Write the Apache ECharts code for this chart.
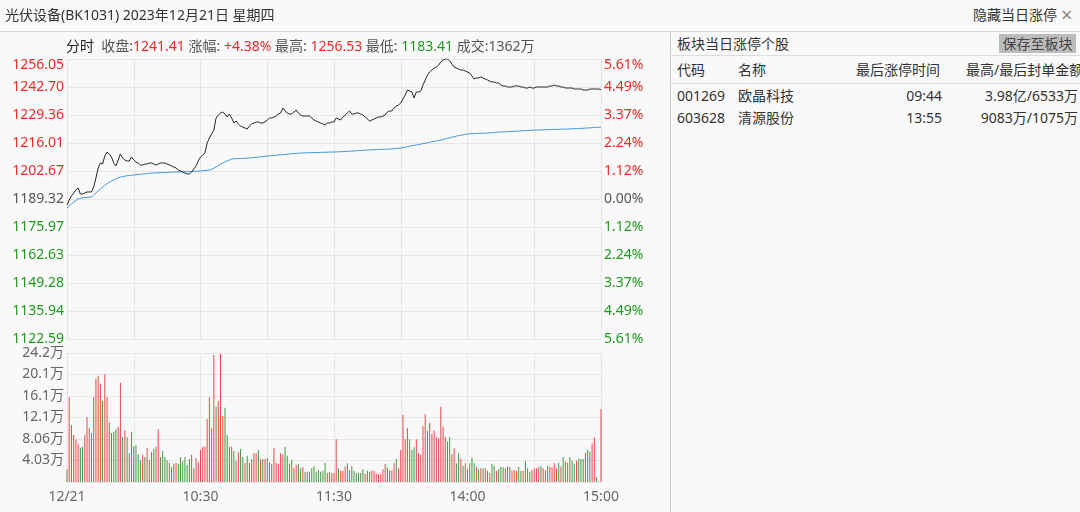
<!DOCTYPE html>
<html><head><meta charset="utf-8">
<script src="https://cdn.jsdelivr.net/npm/echarts@6.0.0/dist/echarts.min.js"></script>
<style>
html,body{margin:0;padding:0;background:#f9f9f9;width:1080px;height:512px;overflow:hidden;font-family:"Noto Sans","Noto Sans CJK SC",sans-serif;color:#333;}
.abs{position:absolute;white-space:nowrap;font-size:14px;line-height:18px;}
.r{color:#ee2a2a}.g{color:#1f9a1f}.k{color:#222}.m{color:#555}
</style></head><body>
<div id="chart" style="position:absolute;left:0;top:0;width:670px;height:512px;"></div>
<div class="abs" style="left:5px;top:6px;color:#333">光伏设备(BK1031) 2023年12月21日 星期四</div>
<div class="abs" style="left:973px;top:6px;color:#333">隐藏当日涨停</div>
<div class="abs" style="left:1061px;top:4px;font-size:20px;line-height:22px;color:#888">×</div>
<div style="position:absolute;left:0;top:31px;width:1080px;height:1px;background:#d4d4d4"></div>
<div style="position:absolute;left:670px;top:32px;width:1px;height:480px;background:#c8c8c8"></div>
<div class="abs" style="left:66px;top:37px"><span class="k">分时</span>&nbsp; <span class="m">收盘:</span><span class="r">1241.41</span> <span class="m">涨幅:</span> <span class="r">+4.38%</span> <span class="m">最高:</span> <span class="r">1256.53</span> <span class="m">最低:</span> <span class="g">1183.41</span> <span class="m">成交:1362万</span></div>
<div class="abs" style="left:677px;top:35px;color:#333">板块当日涨停个股</div>
<div class="abs" style="left:999px;top:34px;width:77px;height:19px;background:#bcbcbc;color:#444;text-align:center;line-height:19px">保存至板块</div>
<div style="position:absolute;left:671px;top:55px;width:409px;height:1px;background:#dcdcdc"></div>
<div class="abs" style="left:677px;top:61px">代码</div>
<div class="abs" style="left:738px;top:61px">名称</div>
<div class="abs" style="left:856px;top:61px">最后涨停时间</div>
<div class="abs" style="left:966px;top:61px">最高/最后封单金额</div>
<div style="position:absolute;left:671px;top:83px;width:409px;height:1px;background:#dcdcdc"></div>
<div id="rows"></div>
<script>
// ---------- data ----------
const stockCodes = ['001269', '603628'];
const stockNames = ['欧晶科技', '清源股份'];
const limitTimes = ['09:44', '13:55'];
const sealAmounts = ['3.98亿/6533万', '9083万/1075万'];

const priceTicks = ['1122.59','1135.94','1149.28','1162.63','1175.97','1189.32','1202.67','1216.01','1229.36','1242.70','1256.05'];
const pctTicks = ['5.61%','4.49%','3.37%','2.24%','1.12%','0.00%','1.12%','2.24%','3.37%','4.49%','5.61%'];
const volTicks = ['', '4.03万', '8.06万', '12.1万', '16.1万', '20.1万', '24.2万'];
const timeAxisLabels = {'09:30':'12/21','10:30':'10:30','11:30':'11:30','14:00':'14:00','15:00':'15:00'};

const PRICE_MIN = 1122.59, PRICE_MAX = 1256.05, PRICE_STEP = 13.346;
const VOL_MAX = 24.18, VOL_STEP = 4.03;

const prices = [
1186.46,1188.84,1190.75,1192.18,1193.61,1194.56,1191.70,1191.70,1192.18,1192.66,
1192.66,1192.66,1195.04,1199.33,1204.09,1206.48,1206.00,1209.81,1211.72,1210.77,
1209.34,1206.48,1205.05,1207.91,1210.77,1208.86,1207.91,1207.43,1207.43,1209.34,
1207.91,1206.95,1206.48,1205.52,1205.52,1206.00,1206.00,1206.48,1206.48,1206.00,
1205.52,1206.00,1206.48,1206.48,1206.48,1206.00,1205.52,1205.05,1204.57,1204.09,
1203.14,1202.66,1202.19,1201.71,1201.24,1201.24,1202.19,1203.62,1205.05,1207.43,
1209.34,1210.29,1211.24,1216.01,1218.39,1220.30,1222.21,1227.92,1229.35,1230.31,
1230.78,1229.83,1228.40,1229.83,1227.92,1225.54,1226.49,1225.07,1224.11,1223.64,
1223.16,1222.68,1224.11,1225.07,1225.54,1226.02,1226.02,1225.54,1225.54,1226.02,
1226.97,1227.92,1227.92,1228.40,1228.88,1229.83,1230.31,1232.69,1231.26,1230.31,
1229.83,1229.83,1230.78,1231.74,1230.31,1229.35,1228.88,1228.88,1228.88,1228.88,
1227.92,1226.97,1226.49,1226.02,1225.54,1225.07,1224.59,1225.54,1225.54,1226.02,
1226.02,1227.92,1227.45,1226.97,1228.40,1229.35,1230.31,1231.26,1229.83,1229.83,
1230.31,1230.31,1229.83,1229.35,1228.40,1227.45,1226.49,1226.97,1227.45,1227.92,
1228.40,1228.40,1228.88,1229.35,1230.78,1231.26,1231.26,1232.69,1233.64,1234.12,
1235.07,1236.98,1238.89,1241.27,1240.79,1240.32,1237.46,1240.32,1240.32,1240.79,
1243.65,1246.03,1248.42,1249.85,1250.80,1251.75,1252.23,1253.18,1254.61,1255.56,
1256.04,1256.04,1255.09,1253.66,1252.23,1251.75,1251.28,1250.80,1250.80,1250.32,
1249.85,1249.37,1247.94,1246.51,1246.99,1246.99,1247.47,1246.99,1246.51,1246.03,
1245.56,1245.08,1245.08,1244.61,1244.61,1243.65,1243.18,1243.18,1242.70,1242.70,
1242.70,1243.18,1243.18,1243.18,1242.70,1242.70,1242.22,1242.22,1242.70,1242.22,
1242.22,1242.70,1242.70,1242.70,1242.70,1242.70,1242.70,1243.18,1243.18,1243.65,
1243.18,1243.18,1242.70,1242.70,1242.22,1242.22,1242.22,1242.22,1241.75,1241.75,
1241.75,1241.75,1241.27,1241.27,1241.27,1241.75,1241.75,1241.75,1241.75,1241.75,
1241.41];

const avgPrices = [
1185.0,1186.0,1187.0,1187.9,1188.6,1189.3,1189.6,1189.8,1190.0,1190.1,
1190.2,1190.3,1191.2,1192.2,1193.2,1194.1,1195.0,1195.8,1196.6,1197.3,
1197.9,1198.4,1198.9,1199.4,1199.8,1200.0,1200.2,1200.4,1200.5,1200.6,
1200.8,1200.9,1201.0,1201.1,1201.2,1201.3,1201.4,1201.5,1201.7,1201.7,
1201.8,1201.8,1201.9,1201.9,1202.0,1202.0,1202.1,1202.1,1202.2,1202.2,
1202.2,1202.3,1202.3,1202.3,1202.4,1202.4,1202.4,1202.5,1202.5,1202.6,
1202.7,1202.8,1202.9,1203.0,1203.1,1203.5,1204.0,1204.6,1205.3,1205.9,
1206.5,1207.0,1207.5,1207.9,1208.4,1208.5,1208.5,1208.6,1208.6,1208.7,
1208.7,1208.8,1208.9,1209.0,1209.1,1209.2,1209.3,1209.4,1209.5,1209.7,
1209.8,1209.9,1210.0,1210.1,1210.2,1210.3,1210.4,1210.5,1210.6,1210.7,
1210.8,1210.9,1211.0,1211.1,1211.2,1211.2,1211.3,1211.3,1211.3,1211.4,
1211.4,1211.4,1211.5,1211.5,1211.5,1211.6,1211.6,1211.6,1211.7,1211.7,
1211.7,1211.8,1211.8,1211.9,1211.9,1212.0,1212.0,1212.1,1212.1,1212.2,
1212.3,1212.4,1212.4,1212.5,1212.6,1212.7,1212.7,1212.8,1212.8,1212.9,
1212.9,1213.0,1213.0,1213.0,1213.1,1213.1,1213.2,1213.3,1213.4,1213.5,
1213.6,1213.8,1214.0,1214.3,1214.5,1214.7,1214.9,1215.1,1215.3,1215.5,
1215.7,1215.9,1216.1,1216.4,1216.6,1216.8,1217.0,1217.2,1217.4,1217.7,
1218.0,1218.3,1218.5,1218.8,1219.0,1219.3,1219.5,1219.7,1219.9,1220.1,
1220.3,1220.4,1220.4,1220.5,1220.5,1220.6,1220.6,1220.7,1220.7,1220.8,
1220.9,1220.9,1221.0,1221.1,1221.2,1221.3,1221.3,1221.4,1221.4,1221.5,
1221.5,1221.6,1221.6,1221.7,1221.8,1221.8,1221.9,1222.0,1222.0,1222.1,
1222.2,1222.2,1222.2,1222.3,1222.3,1222.3,1222.4,1222.4,1222.4,1222.5,
1222.5,1222.5,1222.6,1222.6,1222.6,1222.7,1222.7,1222.8,1222.8,1222.9,
1222.9,1223.0,1223.0,1223.1,1223.2,1223.2,1223.3,1223.4,1223.5,1223.5,
1223.6];

// volume in 万
const volumes = [
2.4,15.9,10.7,8.8,7.9,7.1,6.4,6.6,8.8,12.2,
10.1,9.2,15.9,19.3,19.9,18.4,15.2,20.2,15.9,11.2,
9.2,9.4,9.9,10.3,18.6,8.4,9.7,8.4,5.4,9.4,
6.7,6.9,5.2,4.1,5.1,4.7,6.4,4.1,5.6,6.2,
6.6,9.9,4.7,5.8,4.7,4.1,3.6,2.8,3.4,3.6,
3.4,4.7,3.9,4.7,3.2,4.3,5.1,2.6,4.5,3.7,
6.0,6.6,6.6,11.8,15.9,10.1,23.8,14.1,15.2,24.0,
12.4,13.9,8.8,6.6,6.6,5.8,3.9,5.6,6.2,4.7,
3.6,4.9,3.6,4.3,5.4,5.4,6.0,4.3,4.3,4.3,
4.5,3.7,3.4,6.4,3.6,3.4,5.4,5.2,6.6,4.9,
3.4,4.1,2.6,3.2,3.4,2.6,2.8,1.9,1.9,1.9,
2.6,3.0,1.9,2.2,1.9,2.1,3.6,1.7,1.9,1.7,
1.7,8.0,2.6,2.1,2.1,2.9,3.5,2.2,3.0,2.1,
1.7,1.7,1.7,2.4,1.5,2.1,1.9,2.1,2.1,1.6,
1.5,1.5,2.4,3.4,2.7,2.2,2.2,3.5,4.3,2.6,
6.0,12.6,8.0,10.1,8.0,6.0,6.5,8.0,5.4,5.1,
10.5,12.7,9.6,11.1,9.0,9.7,8.4,8.2,14.1,10.4,
8.5,7.6,8.4,5.2,6.3,3.5,5.4,4.4,3.0,3.5,
2.4,3.5,4.6,3.6,2.9,2.4,2.6,2.6,2.6,2.1,
1.7,3.4,3.0,2.1,2.4,2.8,2.8,2.6,2.9,2.8,
2.2,2.2,2.1,2.8,2.1,2.1,4.0,2.6,1.9,2.2,
2.6,2.6,2.8,3.0,2.6,2.2,3.1,2.8,2.8,3.5,
2.6,3.6,2.9,4.7,3.8,3.6,4.7,4.0,3.4,4.0,
4.4,4.3,4.3,5.5,6.0,5.7,7.2,8.4,0.9,0.1,
13.7];

// 1 = up (red), 0 = down (green)
const volUp = [
0,1,1,1,1,1,0,0,1,1, 1,1,1,1,1,1,0,1,1,1, 0,0,0,1,1,0,1,0,0,1, 0,0,0,0,1,0,1,1,1,0,
1,1,0,0,0,0,1,0,1,1, 0,0,0,0,0,0,1,1,1,1, 1,1,1,1,1,1,1,0,1,1, 1,0,0,1,1,0,1,1,0,0,
1,0,1,1,1,1,0,1,0,1, 0,1,1,1,1,1,1,1,0,0, 1,0,1,1,0,0,1,0,0,0, 0,0,0,0,0,0,0,1,1,1,
1,1,0,1,1,1,1,0,0,0, 0,0,0,0,1,0,0,1,1,1, 1,1,1,1,1,0,1,1,0,1, 1,1,1,1,0,0,0,1,1,1,
1,1,1,1,1,1,1,1,1,1, 1,0,0,1,1,0,0,1,0,1, 1,0,0,0,1,0,1,0,1,0, 1,0,0,1,0,0,0,1,1,1,
1,1,1,0,0,1,0,1,0,1, 1,1,1,0,1,1,0,1,1,1, 1,0,1,0,1,1,0,0,0,1, 0,0,0,1,0,0,1,1,0,0,
1];

// ---------- table rows ----------
const rowsEl = document.getElementById('rows');
stockCodes.forEach((c, i) => {
  const top = 87 + i * 22;
  rowsEl.insertAdjacentHTML('beforeend',
    `<div class="abs" style="left:677px;top:${top}px">${c}</div>` +
    `<div class="abs" style="left:738px;top:${top}px">${stockNames[i]}</div>` +
    `<div class="abs" style="left:895px;width:47px;text-align:right;top:${top}px">${limitTimes[i]}</div>` +
    `<div class="abs" style="left:940px;width:138px;text-align:right;top:${top}px">${sealAmounts[i]}</div>`);
});

// ---------- minute categories ----------
function pad(n) { return (n < 10 ? '0' : '') + n; }
const minutes = [];
for (let m = 9 * 60 + 30; m <= 11 * 60 + 30; m++) minutes.push(pad(Math.floor(m / 60)) + ':' + pad(m % 60));
for (let m = 13 * 60 + 1; m <= 15 * 60; m++) minutes.push(pad(Math.floor(m / 60)) + ':' + pad(m % 60));

const RED = '#ee2a2a', GREEN = '#1f9a1f', GRAY = '#555', GRID = '#e6e6e6';
const FONT = '"Noto Sans","Noto Sans CJK SC",sans-serif';

function tickIndex(v, min, step) { return Math.round((v - min) / step); }

const labelRich = {
  r: { color: RED, fontSize: 14, fontFamily: FONT },
  g: { color: GREEN, fontSize: 14, fontFamily: FONT },
  n: { color: GRAY, fontSize: 14, fontFamily: FONT },
  rt: { color: RED, fontSize: 14, fontFamily: FONT, padding: [12, 0, 0, 0] }
};
function tickClass(k) { return k === 10 ? 'rt' : (k > 5 ? 'r' : (k < 5 ? 'g' : 'n')); }

const chart = echarts.init(document.getElementById('chart'), null, { renderer: 'canvas' });
chart.setOption({
  animation: false,
  backgroundColor: 'transparent',
  grid: [
    { left: 67, top: 59, width: 534, height: 280 },
    { left: 67, top: 353, width: 534, height: 129 }
  ],
  xAxis: [
    { type: 'category', gridIndex: 0, data: minutes, boundaryGap: false,
      axisLine: { show: false }, axisTick: { show: false }, axisLabel: { show: false },
      splitLine: { show: true, interval: (i) => i % 30 === 0, lineStyle: { color: GRID, width: 1 } } },
    { type: 'category', gridIndex: 1, data: minutes, boundaryGap: false,
      axisLine: { show: false }, axisTick: { show: false },
      axisLabel: { show: true, interval: (i, v) => v in timeAxisLabels, formatter: (v) => timeAxisLabels[v] || '',
        color: '#666', fontSize: 14, fontFamily: FONT, margin: 8, hideOverlap: false },
      splitLine: { show: true, interval: (i) => i % 30 === 0, lineStyle: { color: GRID, width: 1 } } }
  ],
  yAxis: [
    { type: 'value', gridIndex: 0, position: 'left', min: PRICE_MIN, max: PRICE_MAX, interval: PRICE_STEP,
      axisLine: { show: false }, axisTick: { show: false },
      splitLine: { show: true, lineStyle: { color: GRID, width: 1 } },
      axisLabel: { margin: 3, formatter: (v) => { const k = tickIndex(v, PRICE_MIN, PRICE_STEP); return '{' + tickClass(k) + '|' + priceTicks[k] + '}'; }, rich: labelRich } },
    { type: 'value', gridIndex: 0, position: 'right', min: PRICE_MIN, max: PRICE_MAX, interval: PRICE_STEP,
      axisLine: { show: false }, axisTick: { show: false }, splitLine: { show: false },
      axisLabel: { margin: 3, formatter: (v) => { const k = tickIndex(v, PRICE_MIN, PRICE_STEP); return '{' + tickClass(k) + '|' + pctTicks[k] + '}'; }, rich: labelRich } },
    { type: 'value', gridIndex: 1, position: 'left', min: 0, max: VOL_MAX, interval: VOL_STEP,
      axisLine: { show: false }, axisTick: { show: false },
      splitLine: { show: true, lineStyle: { color: GRID, width: 1 } },
      axisLabel: { margin: 3, color: '#666', fontSize: 14, fontFamily: FONT,
        formatter: (v) => volTicks[tickIndex(v, 0, VOL_STEP)] } }
  ],
  series: [
    { type: 'line', xAxisIndex: 0, yAxisIndex: 0, data: avgPrices, symbol: 'none', smooth: false,
      lineStyle: { color: '#3d95e3', width: 1 }, z: 3 },
    { type: 'line', xAxisIndex: 0, yAxisIndex: 0, data: prices, symbol: 'none', smooth: false,
      lineStyle: { color: '#262626', width: 1 }, z: 4 },
    { type: 'bar', xAxisIndex: 1, yAxisIndex: 2, barWidth: 1,
      data: volumes.map((v, i) => ({ value: v, itemStyle: { color: volUp[i] ? '#e84848' : '#3f9a3f' } })) }
  ]
});
</script>
</body></html>
